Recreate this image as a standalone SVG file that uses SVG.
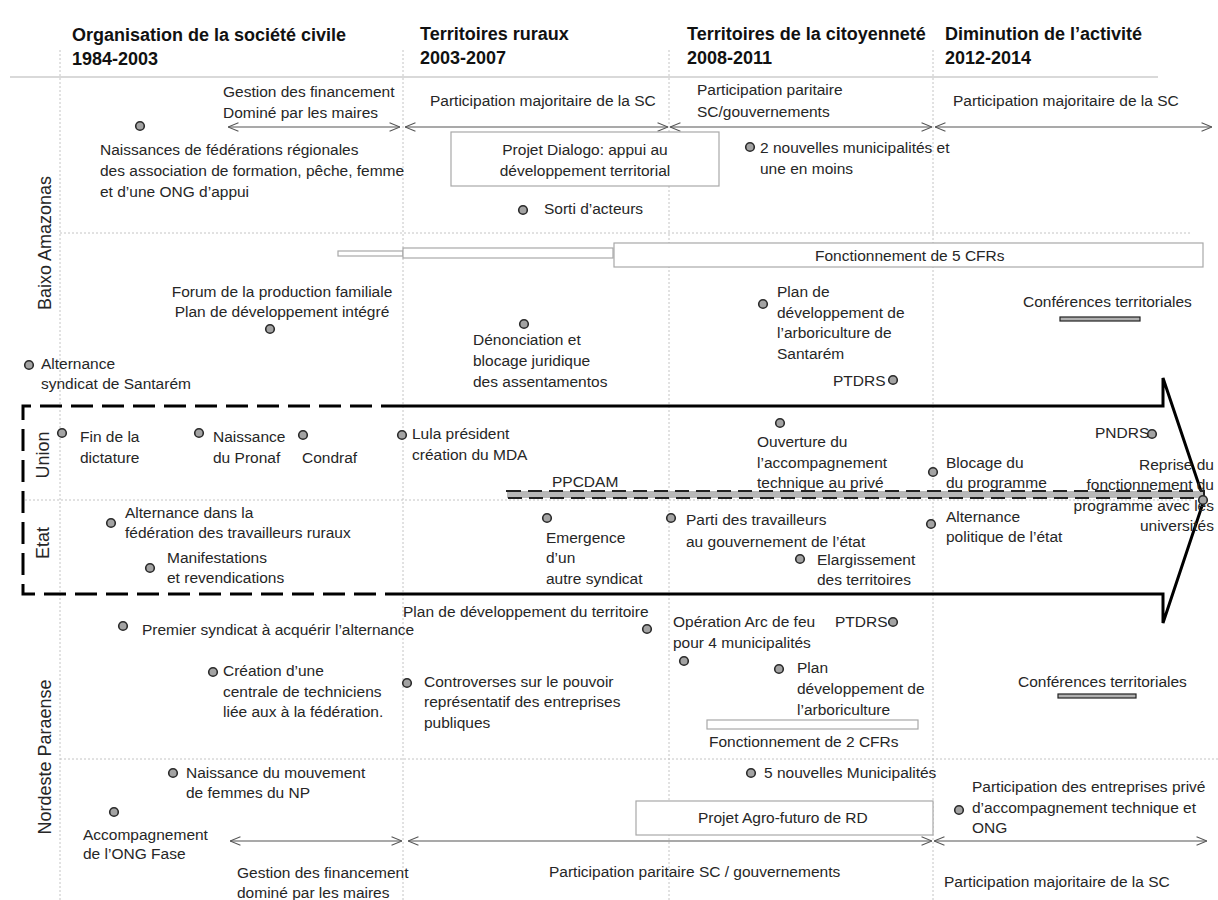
<svg xmlns="http://www.w3.org/2000/svg" width="1218" height="900" viewBox="0 0 1218 900">
<defs>
<marker id="ah" viewBox="0 0 10 10" refX="10" refY="5" markerWidth="11" markerHeight="11" markerUnits="userSpaceOnUse" orient="auto-start-reverse">
<path d="M0.5,1.2 L10,5 L0.5,8.8" fill="none" stroke="#555" stroke-width="1"/>
</marker>
<style>
.h{font:bold 18px "Liberation Sans",Arial,sans-serif;fill:#111}
.t{font:15.5px "Liberation Sans",Arial,sans-serif;fill:#262626}
.lab{font:18px "Liberation Sans",Arial,sans-serif;fill:#262626}
.m{text-anchor:middle}
.e{text-anchor:end}
.grid{stroke:#c4c4c4;stroke-width:1;stroke-dasharray:2 2;fill:none}
.dot{fill:#a3a3a3;stroke:#2a2a2a;stroke-width:1.6}
.arr{stroke:#555;stroke-width:1.2;fill:none;marker-start:url(#ah);marker-end:url(#ah)}
.box{fill:#fff;stroke:#a8a8a8;stroke-width:1.2}
.bar{fill:#b0b0b0;stroke:#222;stroke-width:1.2}
</style>
</defs>
<rect width="1218" height="900" fill="#fff"/>

<g id="grid">
<line x1="10" y1="77" x2="1158" y2="77" stroke="#ccc" stroke-width="1.5"/>
<line class="grid" x1="60" y1="50" x2="60" y2="900"/>
<line class="grid" x1="403" y1="50" x2="403" y2="900"/>
<line class="grid" x1="669" y1="50" x2="669" y2="900"/>
<line class="grid" x1="933" y1="50" x2="933" y2="900"/>
<line class="grid" x1="60" y1="233" x2="1192" y2="233"/>
<line class="grid" x1="25" y1="500" x2="1192" y2="500"/>
<line class="grid" x1="60" y1="759" x2="1218" y2="759"/>
</g>

<g id="headers">
<text class="h" x="72" y="41">Organisation de la société civile</text>
<text class="h" x="72" y="65">1984-2003</text>
<text class="h" x="420" y="40">Territoires ruraux</text>
<text class="h" x="420" y="64">2003-2007</text>
<text class="h" x="687" y="40">Territoires de la citoyenneté</text>
<text class="h" x="687" y="64">2008-2011</text>
<text class="h" x="945" y="40">Diminution de l’activité</text>
<text class="h" x="945" y="64">2012-2014</text>
</g>

<g id="region-labels">
<text class="lab m" transform="translate(51,243) rotate(-90)">Baixo Amazonas</text>
<text class="lab m" transform="translate(49,455) rotate(-90)">Union</text>
<text class="lab m" transform="translate(49,543) rotate(-90)">Etat</text>
<text class="lab m" transform="translate(51,757) rotate(-90)">Nordeste Paraense</text>
</g>

<g id="big-arrow">
<path d="M403,406 H23 V594 H403" fill="none" stroke="#000" stroke-width="3" stroke-dasharray="22 9"/>
<path d="M403,406 H1163 V378 L1204,500 L1163,623 V594 H403" fill="none" stroke="#000" stroke-width="3" stroke-linejoin="miter"/>
</g>

<g id="connectors">
<line class="arr" x1="228" y1="127" x2="400" y2="127"/>
<line class="arr" x1="405" y1="127" x2="668" y2="127"/>
<line class="arr" x1="670" y1="127" x2="932" y2="127"/>
<line class="arr" x1="935" y1="127" x2="1212" y2="127"/>
<line class="arr" x1="230" y1="841" x2="402" y2="841"/>
<line class="arr" x1="408" y1="841" x2="932" y2="841"/>
<line class="arr" x1="934" y1="841" x2="1207" y2="841"/>
</g>

<g id="arrow-labels">
<text class="t" x="223" y="97">Gestion des financement</text>
<text class="t" x="223" y="118">Dominé par les maires</text>
<text class="t" x="430" y="106">Participation majoritaire de la SC</text>
<text class="t" x="697" y="95">Participation paritaire</text>
<text class="t" x="697" y="117">SC/gouvernements</text>
<text class="t" x="953" y="106">Participation majoritaire de la SC</text>
<text class="t" x="237" y="878">Gestion des financement</text>
<text class="t" x="237" y="898">dominé par les maires</text>
<text class="t" x="549" y="877">Participation paritaire SC / gouvernements</text>
<text class="t" x="944" y="887">Participation majoritaire de la SC</text>
</g>

<g id="n-federations">
<circle class="dot" cx="140" cy="126" r="4.3"/>
<text class="t" x="100" y="155">Naissances de fédérations régionales</text>
<text class="t" x="100" y="176">des association de formation, pêche, femme</text>
<text class="t" x="100" y="197">et d’une ONG d’appui</text>
</g>
<g id="n-dialogo">
<rect class="box" x="451" y="132" width="268" height="54"/>
<text class="t m" x="585" y="155">Projet Dialogo: appui au</text>
<text class="t m" x="585" y="176">développement territorial</text>
</g>
<g id="n-sorti">
<circle class="dot" cx="523" cy="210" r="4.3"/>
<text class="t" x="544" y="214">Sorti d’acteurs</text>
</g>
<g id="n-2nouvelles">
<circle class="dot" cx="750" cy="147" r="4.3"/>
<text class="t" x="760" y="153">2 nouvelles municipalités et</text>
<text class="t" x="760" y="174">une en moins</text>
</g>
<g id="n-cfr5">
<rect class="box" x="338" y="251" width="65" height="5"/>
<rect class="box" x="403" y="248" width="210" height="10"/>
<rect class="box" x="614" y="243" width="589" height="24"/>
<text class="t" x="815" y="261">Fonctionnement de 5 CFRs</text>
</g>
<g id="n-forum">
<text class="t m" x="282" y="297">Forum de la production familiale</text>
<text class="t m" x="282" y="317">Plan de développement intégré</text>
<circle class="dot" cx="270" cy="329" r="4.3"/>
</g>
<g id="n-alternance-santarem">
<circle class="dot" cx="29" cy="365" r="4.3"/>
<text class="t" x="41" y="369">Alternance</text>
<text class="t" x="41" y="389">syndicat de Santarém</text>
</g>
<g id="n-denonciation">
<circle class="dot" cx="524" cy="324" r="4.3"/>
<text class="t" x="473" y="345">Dénonciation et</text>
<text class="t" x="473" y="366">blocage juridique</text>
<text class="t" x="473" y="387">des assentamentos</text>
</g>
<g id="n-plan-santarem">
<circle class="dot" cx="763" cy="304" r="4.3"/>
<text class="t" x="777" y="297">Plan de</text>
<text class="t" x="777" y="318">développement de</text>
<text class="t" x="777" y="338">l’arboriculture de</text>
<text class="t" x="777" y="359">Santarém</text>
</g>
<g id="n-conf-ba">
<text class="t" x="1023" y="307">Conférences territoriales</text>
<rect class="bar" x="1060" y="317" width="80" height="4"/>
</g>
<g id="n-ptdrs-ba">
<text class="t" x="833" y="386">PTDRS</text>
<circle class="dot" cx="893" cy="380" r="4.3"/>
</g>

<g id="n-dictature">
<circle class="dot" cx="62" cy="433" r="4.3"/>
<text class="t" x="80" y="442">Fin de la</text>
<text class="t" x="80" y="463">dictature</text>
</g>
<g id="n-pronaf">
<circle class="dot" cx="199" cy="433" r="4.3"/>
<text class="t" x="213" y="442">Naissance</text>
<text class="t" x="213" y="463">du Pronaf</text>
</g>
<g id="n-condraf">
<circle class="dot" cx="303" cy="435" r="4.3"/>
<text class="t" x="302" y="463">Condraf</text>
</g>
<g id="n-lula">
<circle class="dot" cx="402" cy="435" r="4.3"/>
<text class="t" x="412" y="439">Lula président</text>
<text class="t" x="412" y="460">création du MDA</text>
</g>
<g id="n-ppcdam">
<rect x="507" y="491" width="697" height="7" fill="#b8b8b8" stroke="#222" stroke-width="2" stroke-dasharray="14 7"/>
<text class="t" x="552" y="487">PPCDAM</text>
</g>
<g id="n-ouverture">
<circle class="dot" cx="780" cy="423" r="4.3"/>
<text class="t" x="757" y="447">Ouverture du</text>
<text class="t" x="757" y="468">l’accompagnement</text>
<text class="t" x="757" y="488">technique au privé</text>
</g>
<g id="n-blocage">
<circle class="dot" cx="933" cy="472" r="4.3"/>
<text class="t" x="946" y="468">Blocage du</text>
<text class="t" x="946" y="488">du programme</text>
</g>
<g id="n-pndrs">
<text class="t" x="1095" y="438">PNDRS</text>
<circle class="dot" cx="1152" cy="434" r="4.3"/>
</g>
<g id="n-reprise">
<text class="t e" x="1214" y="470">Reprise du</text>
<text class="t e" x="1214" y="490">fonctionnement du</text>
<text class="t e" x="1214" y="511">programme avec les</text>
<text class="t e" x="1214" y="531">universités</text>
<circle class="dot" cx="1203" cy="500" r="4.3"/>
</g>
<g id="n-alternance-federation">
<circle class="dot" cx="111" cy="523" r="4.3"/>
<text class="t" x="125" y="518">Alternance dans la</text>
<text class="t" x="125" y="538">fédération des travailleurs ruraux</text>
</g>
<g id="n-manifestations">
<circle class="dot" cx="150" cy="568" r="4.3"/>
<text class="t" x="167" y="563">Manifestations</text>
<text class="t" x="167" y="583">et revendications</text>
</g>
<g id="n-emergence">
<circle class="dot" cx="547" cy="518" r="4.3"/>
<text class="t" x="546" y="543">Emergence</text>
<text class="t" x="546" y="563">d’un</text>
<text class="t" x="546" y="584">autre syndicat</text>
</g>
<g id="n-parti">
<circle class="dot" cx="671" cy="518" r="4.3"/>
<text class="t" x="686" y="525">Parti des travailleurs</text>
<text class="t" x="686" y="547">au gouvernement de l’état</text>
</g>
<g id="n-elargissement">
<circle class="dot" cx="800" cy="559" r="4.3"/>
<text class="t" x="817" y="565">Elargissement</text>
<text class="t" x="817" y="585">des territoires</text>
</g>
<g id="n-alternance-politique">
<circle class="dot" cx="931" cy="524" r="4.3"/>
<text class="t" x="946" y="522">Alternance</text>
<text class="t" x="946" y="542">politique de l’état</text>
</g>

<g id="n-plan-territoire">
<text class="t" x="403" y="617">Plan de développement du territoire</text>
<circle class="dot" cx="647" cy="629" r="4.3"/>
</g>
<g id="n-premier-syndicat">
<circle class="dot" cx="123" cy="626" r="4.3"/>
<text class="t" x="142" y="635">Premier syndicat à acquérir l’alternance</text>
</g>
<g id="n-arc-de-feu">
<text class="t" x="673" y="627">Opération Arc de feu</text>
<text class="t" x="673" y="648">pour 4 municipalités</text>
<circle class="dot" cx="684" cy="661" r="4.3"/>
</g>
<g id="n-ptdrs-np">
<text class="t" x="835" y="627">PTDRS</text>
<circle class="dot" cx="893" cy="622" r="4.3"/>
</g>
<g id="n-centrale">
<circle class="dot" cx="213" cy="672" r="4.3"/>
<text class="t" x="223" y="676">Création d’une</text>
<text class="t" x="223" y="697">centrale de techniciens</text>
<text class="t" x="223" y="717">liée aux à la fédération.</text>
</g>
<g id="n-controverses">
<circle class="dot" cx="407" cy="683" r="4.3"/>
<text class="t" x="424" y="687">Controverses sur le pouvoir</text>
<text class="t" x="424" y="707">représentatif des entreprises</text>
<text class="t" x="424" y="728">publiques</text>
</g>
<g id="n-plan-arbo">
<circle class="dot" cx="779" cy="669" r="4.3"/>
<text class="t" x="797" y="673">Plan</text>
<text class="t" x="797" y="694">développement de</text>
<text class="t" x="797" y="715">l’arboriculture</text>
</g>
<g id="n-cfr2">
<rect class="box" x="707" y="720" width="211" height="9"/>
<text class="t" x="709" y="747">Fonctionnement de 2 CFRs</text>
</g>
<g id="n-conf-np">
<text class="t" x="1018" y="687">Conférences territoriales</text>
<rect class="bar" x="1058" y="694" width="78" height="4"/>
</g>
<g id="n-femmes">
<circle class="dot" cx="173" cy="773" r="4.3"/>
<text class="t" x="186" y="778">Naissance du mouvement</text>
<text class="t" x="186" y="798">de femmes du NP</text>
</g>
<g id="n-fase">
<circle class="dot" cx="114" cy="812" r="4.3"/>
<text class="t" x="83" y="840">Accompagnement</text>
<text class="t" x="83" y="859">de l’ONG Fase</text>
</g>
<g id="n-5nouvelles">
<circle class="dot" cx="751" cy="773" r="4.3"/>
<text class="t" x="764" y="778">5 nouvelles Municipalités</text>
</g>
<g id="n-entreprises">
<circle class="dot" cx="959" cy="810" r="4.3"/>
<text class="t" x="972" y="792">Participation des entreprises privé</text>
<text class="t" x="972" y="813">d’accompagnement technique  et</text>
<text class="t" x="972" y="833">ONG</text>
</g>
<g id="n-agro">
<rect class="box" x="636" y="801" width="297" height="34"/>
<text class="t" x="698" y="823">Projet Agro-futuro de RD</text>
</g>
</svg>
